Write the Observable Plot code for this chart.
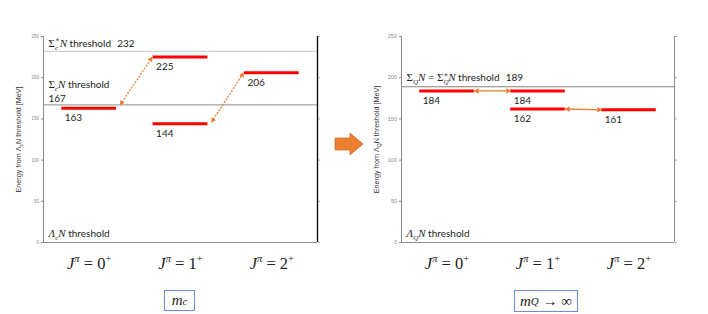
<!DOCTYPE html>
<html><head><meta charset="utf-8">
<script src="https://cdn.jsdelivr.net/npm/d3@7"></script>
<script src="https://cdn.jsdelivr.net/npm/@observablehq/plot@0.6"></script>
<style>
body{margin:0;background:#fff;}
#wrap{position:relative;width:708px;height:314px;overflow:hidden;background:#fff;}
.panel{position:absolute;top:0;}
.box{position:absolute;box-sizing:border-box;border:1px solid #6a8fd6;background:#fff;
  font-family:"Liberation Serif",serif;font-size:15px;color:#222;display:flex;align-items:center;justify-content:center;white-space:pre;}
.box sub{font-size:11px;vertical-align:-4px;line-height:0;}
</style>
</head><body>
<div id="wrap"></div>
<script>
// ---------- data ----------
const jpValues = ["0", "1", "2"];          // J^pi = 0+, 1+, 2+
const yTicks = [0, 50, 100, 150, 200, 250];

// left panel: m_c
const levelJ_c = [0, 1, 1, 2];
const levelE_c = [163, 225, 144, 206];
const arrowJ1_c = [0, 1], arrowE1_c = [167, 146];
const arrowJ2_c = [1, 2], arrowE2_c = [225, 206];
const thrE_c = [232, 167];
const thrName_c = ["#Σ#*_{c}^{∗}N* threshold", "#Σ#*_{c}N* threshold"];
const baseName_c = "*Λ_{c}N* threshold";
const yLabel_c = "Energy from Λ_{c}N threshold [MeV]";

// right panel: m_Q -> infinity
const levelJ_q = [0, 1, 1, 2];
const levelE_q = [184, 184, 162, 161];
const arrowJ1_q = [0, 1], arrowE1_q = [184, 162];
const arrowJ2_q = [1, 2], arrowE2_q = [184, 161];
const thrE_q = [189];
const thrName_q = ["#Σ#*_{Q}N*# = Σ#*_{Q}^{∗}N* threshold"];
const baseName_q = "*Λ_{Q}N* threshold";
const yLabel_q = "Energy from Λ_{Q}N threshold [MeV]";

const captions = ["*m_{c}*", "*m_{Q}*# → ∞#"];

// ---------- rich text helpers ----------
const NS = "http://www.w3.org/2000/svg";
const SERIF = "'Liberation Serif', 'DejaVu Serif', serif";
function parseMarkup(s){
  const tokens = []; let italic = false, serif = false, buf = "";
  const push = (t, script) => { if (t) tokens.push({t, italic, serif, script}); };
  for (let i = 0; i < s.length; i++) {
    const c = s[i];
    if (c === "*") { push(buf, 0); buf = ""; italic = !italic; continue; }
    if (c === "#") { push(buf, 0); buf = ""; serif = !serif; continue; }
    if ((c === "_" || c === "^") && s[i+1] === "{") {
      push(buf, 0); buf = "";
      const end = s.indexOf("}", i + 2);
      push(s.slice(i + 2, end), c === "_" ? 1 : -1);
      i = end; continue;
    }
    buf += c;
  }
  push(buf, 0);
  return tokens;
}
function richify(el, markup){
  const size = parseFloat(getComputedStyle(el).fontSize) || 10;
  while (el.firstChild) el.removeChild(el.firstChild);
  el.setAttribute("style", "white-space:pre");
  let cur = 0, prev = null;
  for (const tk of parseMarkup(markup)) {
    const ts = document.createElementNS(NS, "tspan");
    ts.textContent = tk.t;
    if (tk.italic) ts.setAttribute("font-style", "italic");
    if (tk.italic || tk.serif) ts.setAttribute("font-family", SERIF);
    const target = tk.script === 1 ? size * 0.3 : tk.script === -1 ? -size * 0.42 : 0;
    ts.setAttribute("font-size", tk.script ? size * 0.7 : (tk.italic || tk.serif ? size * 1.1 : size));
    ts.setAttribute("dy", target - cur); cur = target;
    el.appendChild(ts);
    if (tk.script === -1 && prev && prev.script === 1) ts.setAttribute("dx", -prev.el.getComputedTextLength());
    prev = {script: tk.script, el: ts};
  }
}
function toHTML(markup){
  return parseMarkup(markup).map(tk => {
    let h = tk.t;
    if (tk.italic) h = `<i>${h}</i>`;
    if (tk.script === 1) h = `<sub>${h}</sub>`;
    return h;
  }).join("");
}
// filled, outward-pointing arrowheads for the link markers
function fixMarkers(svg, color){
  svg.querySelectorAll("marker").forEach(m => {
    m.setAttribute("orient", "auto-start-reverse");
    m.setAttribute("viewBox", "-5 -5 10 10");
    m.innerHTML = `<path d="M-5,-3.2L0.5,0L-5,3.2Z" fill="${color}" stroke="none"/>`;
  });
}

// ---------- panel builder ----------
const ORANGE = "#ED7D31";
function makePanel(cfg){
  const levels = cfg.J.map((j, i) => ({j, e: cfg.E[i]}));
  const arrows = cfg.aJ1.map((j, i) => ({x1: j + 0.8 + cfg.gap1, y1: cfg.aE1[i], x2: cfg.aJ2[i] + 0.2 - cfg.gap2, y2: cfg.aE2[i]}));
  const lbl = {fontFamily: "Lato, 'Liberation Sans', sans-serif", fontSize: 10, fill: "#222", textAnchor: "start"};
  const marks = [];
  cfg.thr.forEach((e, i) => marks.push(Plot.ruleY([e], {stroke: cfg.thrStroke[i], strokeWidth: 1})));
  marks.push(
    Plot.ruleX([0], {stroke: "#8a8a8a"}),
    Plot.ruleX([3], {stroke: cfg.rightStroke, strokeWidth: cfg.rightWidth}),
    Plot.ruleY([0], {stroke: "#8a8a8a"}),
    Plot.axisY({ticks: yTicks, tickSize: 2, tickPadding: 2.5, fontSize: cfg.tickFont, color: "#8a8a8a", label: null, fontFamily: "'Liberation Sans', sans-serif"}),
    Plot.axisY({anchor: "right", ticks: yTicks, tickSize: 2, tickFormat: () => "", color: "#aaa", label: null}),
    Plot.ruleY(levels, {y: "e", x1: d => d.j + 0.2, x2: d => d.j + 0.8, stroke: "#ff0000", strokeWidth: 3}),
    Plot.link(arrows, {x1: "x1", y1: "y1", x2: "x2", y2: "y2", stroke: ORANGE, strokeWidth: 1.3,
      strokeDasharray: cfg.dashed ? "2,1.3" : null, markerStart: "arrow", markerEnd: "arrow"}),
    Plot.text(levels, {x: d => d.j + 0.2, y: "e", text: d => String(d.e), dx: 3, dy: 10, ...lbl}),
    Plot.text([0], {x: 0, y: 0, text: () => cfg.baseName, dx: 5, dy: -9, ...lbl}),
    Plot.text([cfg.yLabel], {frameAnchor: "left", textAnchor: "middle", rotate: -90, dx: -25, text: d => d, fontSize: 7.2,
      fill: "#333", fontFamily: "'Liberation Sans', sans-serif"}),
    Plot.text(jpValues, {x: (d, i) => i + 0.5, frameAnchor: "bottom", textAnchor: "middle", dy: 26, text: d => `*J^{π}*# = ${d}^{+}#`,
      fontSize: 15, fill: "#222"}),
    ...cfg.thrTexts(lbl)
  );
  const svg = Plot.plot({
    width: 354, height: 314,
    marginLeft: cfg.ml, marginRight: cfg.mr, marginTop: 36, marginBottom: 72,
    x: {domain: [0, 3], axis: null},
    y: {domain: [0, 250], axis: null},
    style: {background: "transparent", fontFamily: "'Liberation Sans', sans-serif"},
    marks
  });
  return svg;
}

const wrap = document.getElementById("wrap");

const left = makePanel({
  J: levelJ_c, E: levelE_c, aJ1: arrowJ1_c, aE1: arrowE1_c, aJ2: arrowJ2_c, aE2: arrowE2_c,
  gap1: 0.04, gap2: 0.01, dashed: true,
  thr: thrE_c, thrStroke: ["#c8c8c8", "#8c8c8c"], rightStroke: "#111", rightWidth: 1.4,
  baseName: baseName_c, yLabel: yLabel_c, ml: 43, mr: 37, tickFont: 4.5,
  thrTexts: (lbl) => [
    Plot.text([thrE_c[0]], {x: 0, y: d => d, text: d => thrName_c[0] + "\u2002\u2009" + d, dx: 5, dy: -8, ...lbl}),
    Plot.text([thrE_c[1]], {x: 0, y: d => d, text: () => thrName_c[1], dx: 5, dy: -20, ...lbl}),
    Plot.text([thrE_c[1]], {x: 0, y: d => d, text: d => String(d), dx: 5, dy: -6.5, ...lbl})
  ]
});
left.classList.add("panel"); left.style.left = "0px";
wrap.appendChild(left);

const right = makePanel({
  J: levelJ_q, E: levelE_q, aJ1: arrowJ1_q, aE1: arrowE1_q, aJ2: arrowJ2_q, aE2: arrowE2_q,
  gap1: 0, gap2: 0, dashed: false,
  thr: thrE_q, thrStroke: ["#7f7f7f"], rightStroke: "#8a8a8a", rightWidth: 1,
  baseName: baseName_q, yLabel: yLabel_q, ml: 47, mr: 34, tickFont: 5.5,
  thrTexts: (lbl) => [
    Plot.text([thrE_q[0]], {x: 0, y: d => d, text: d => thrName_q[0] + "\u2002\u2009" + d, dx: 5, dy: -8.5, ...lbl})
  ]
});
right.classList.add("panel"); right.style.left = "354px";
wrap.appendChild(right);

// convert markup text into rich tspans; style the arrowheads
for (const svg of [left, right]) {
  svg.querySelectorAll("text").forEach(t => {
    const s = t.textContent;
    if (/[*#_^]/.test(s)) richify(t, s);
  });
  fixMarkers(svg, ORANGE);
}

// orange block arrow between panels
const deco = document.createElementNS(NS, "svg");
deco.setAttribute("width", 708); deco.setAttribute("height", 314);
deco.setAttribute("style", "position:absolute;left:0;top:0;pointer-events:none");
deco.innerHTML = `<polygon points="335,138 350,138 350,133 363,144 350,155 350,150 335,150" fill="${ORANGE}" stroke="#c8661f" stroke-width="0.7"/>`;
wrap.appendChild(deco);

// caption boxes
const boxPos = [{left: 164, top: 290, w: 31, h: 21}, {left: 514, top: 290, w: 64, h: 22}];
captions.forEach((c, i) => {
  const d = document.createElement("div");
  d.className = "box";
  const p = boxPos[i];
  d.style.left = p.left + "px"; d.style.top = p.top + "px"; d.style.width = p.w + "px"; d.style.height = p.h + "px";
  d.innerHTML = toHTML(c);
  wrap.appendChild(d);
});
</script>
</body></html>
